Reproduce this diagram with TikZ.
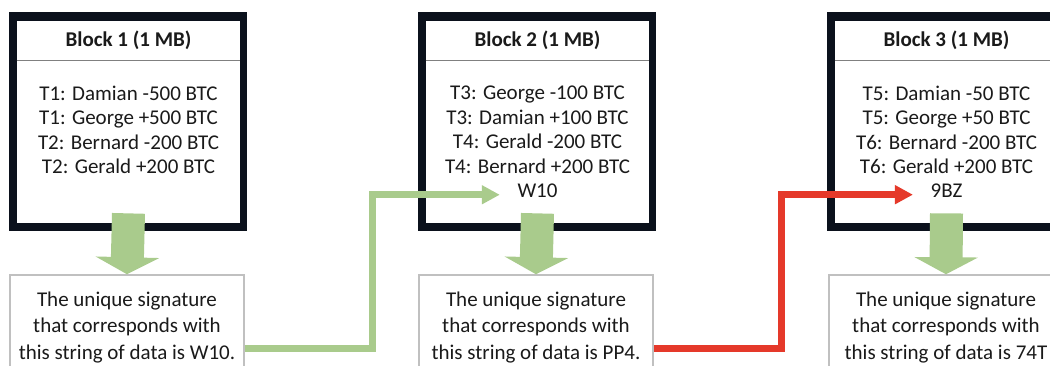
\documentclass[tikz,border=0pt]{standalone}
\usepackage{fontspec}
\setmainfont{Carlito}
\usetikzlibrary{arrows.meta,calc,positioning}

\definecolor{framebg}{HTML}{0B111C}
\definecolor{ruleline}{HTML}{808080}
\definecolor{sigline}{HTML}{C0C0C0}
\definecolor{txt}{HTML}{1A1A1A}
\definecolor{chaingreen}{HTML}{A9CB8C}
\definecolor{chainred}{HTML}{E5392A}

\tikzset{every picture/.style={line width=0.75pt}}

\begin{document}
\begin{tikzpicture}[x=1pt,y=1pt,yscale=-1,
  blockframe/.style={fill=framebg, minimum width=238pt, minimum height=219pt, inner sep=0pt},
  blockpage/.style={fill=white, minimum width=223pt, minimum height=202pt, inner sep=0pt},
  blocktitle/.style={font=\bfseries\fontsize{21}{25}\selectfont, text=txt},
  blockbody/.style={font=\fontsize{21}{24.5}\selectfont, align=center, anchor=north, inner sep=0pt, text=txt},
  hashtext/.style={font=\fontsize{21}{24.5}\selectfont, anchor=base, text=txt},
  sigbox/.style={draw=sigline, line width=1.5pt, fill=white, minimum width=234pt, minimum height=105pt,
    align=center, font=\fontsize{21}{26.5}\selectfont, text=txt, inner sep=0pt},
  feed/.style={chaingreen, line width=33pt, -{Triangle[width=63pt,length=17pt]}},
  link/.style={line width=7pt, -{Triangle[width=18pt,length=18pt]}},
]
\path[use as bounding box, fill=white] (0,0) rectangle (1050,365);
\clip (0,0) rectangle (1050,365);

% block 1
\node[blockframe] (f1) at (128,121.5) {};
\node[blockpage] (p1) at (128.5,122) {};
\draw[ruleline, line width=1.5pt] ($(p1.north west)+(0,40)$) -- ($(p1.north east)+(0,40)$);
\node[blocktitle] (t1) at (128.5,40) {Block 1 (1 MB)};
\node[blockbody] (d1) at (128.5,85.5) {T1: Damian -500 BTC\\T1: George +500 BTC\\T2: Bernard -200 BTC\\T2: Gerald +200 BTC};
\node[sigbox] (s1) at (127,327.5) {The unique signature\\that corresponds with\\this string of data is W10.};

% block 2
\node[blockframe] (f2) at (537,121.5) {};
\node[blockpage] (p2) at (537.5,122) {};
\draw[ruleline, line width=1.5pt] ($(p2.north west)+(0,40)$) -- ($(p2.north east)+(0,40)$);
\node[blocktitle] (t2) at (537.5,40) {Block 2 (1 MB)};
\node[blockbody] (d2) at (537.5,85.5) {T3: George -100 BTC\\T3: Damian +100 BTC\\T4: Gerald -200 BTC\\T4: Bernard +200 BTC};
\node[hashtext] (h2) at (537.5,197.5) {W10};
\node[sigbox] (s2) at (536,327.5) {The unique signature\\that corresponds with\\this string of data is PP4.};

% block 3
\node[blockframe] (f3) at (946,121.5) {};
\node[blockpage] (p3) at (946.5,122) {};
\draw[ruleline, line width=1.5pt] ($(p3.north west)+(0,40)$) -- ($(p3.north east)+(0,40)$);
\node[blocktitle] (t3) at (946.5,40) {Block 3 (1 MB)};
\node[blockbody] (d3) at (946.5,85.5) {T5: Damian -50 BTC\\T5: George +50 BTC\\T6: Bernard -200 BTC\\T6: Gerald +200 BTC};
\node[hashtext] (h3) at (946.5,197.5) {9BZ};
\node[sigbox] (s3) at (946,327.5) {The unique signature\\that corresponds with\\this string of data is 74T};

% hashing arrows
\draw[feed] ($(p1.south)+(0,-10)$) -- (s1.north);
\draw[feed] ($(p2.south)+(0,-10)$) -- (s2.north);
\draw[feed] ($(p3.south)+(0,-10)$) -- (s3.north);

% signature carried into the next block
\draw[link, chaingreen] ($(s1.east)+(0,20.5)$) -- ++(128,0) |- ($(h2.west)+(-14,4)$);
\draw[link, chainred] ($(s2.east)+(0,20.5)$) -- ++(128,0) |- ($(h3.west)+(-14,4)$);

\end{tikzpicture}
\end{document}
